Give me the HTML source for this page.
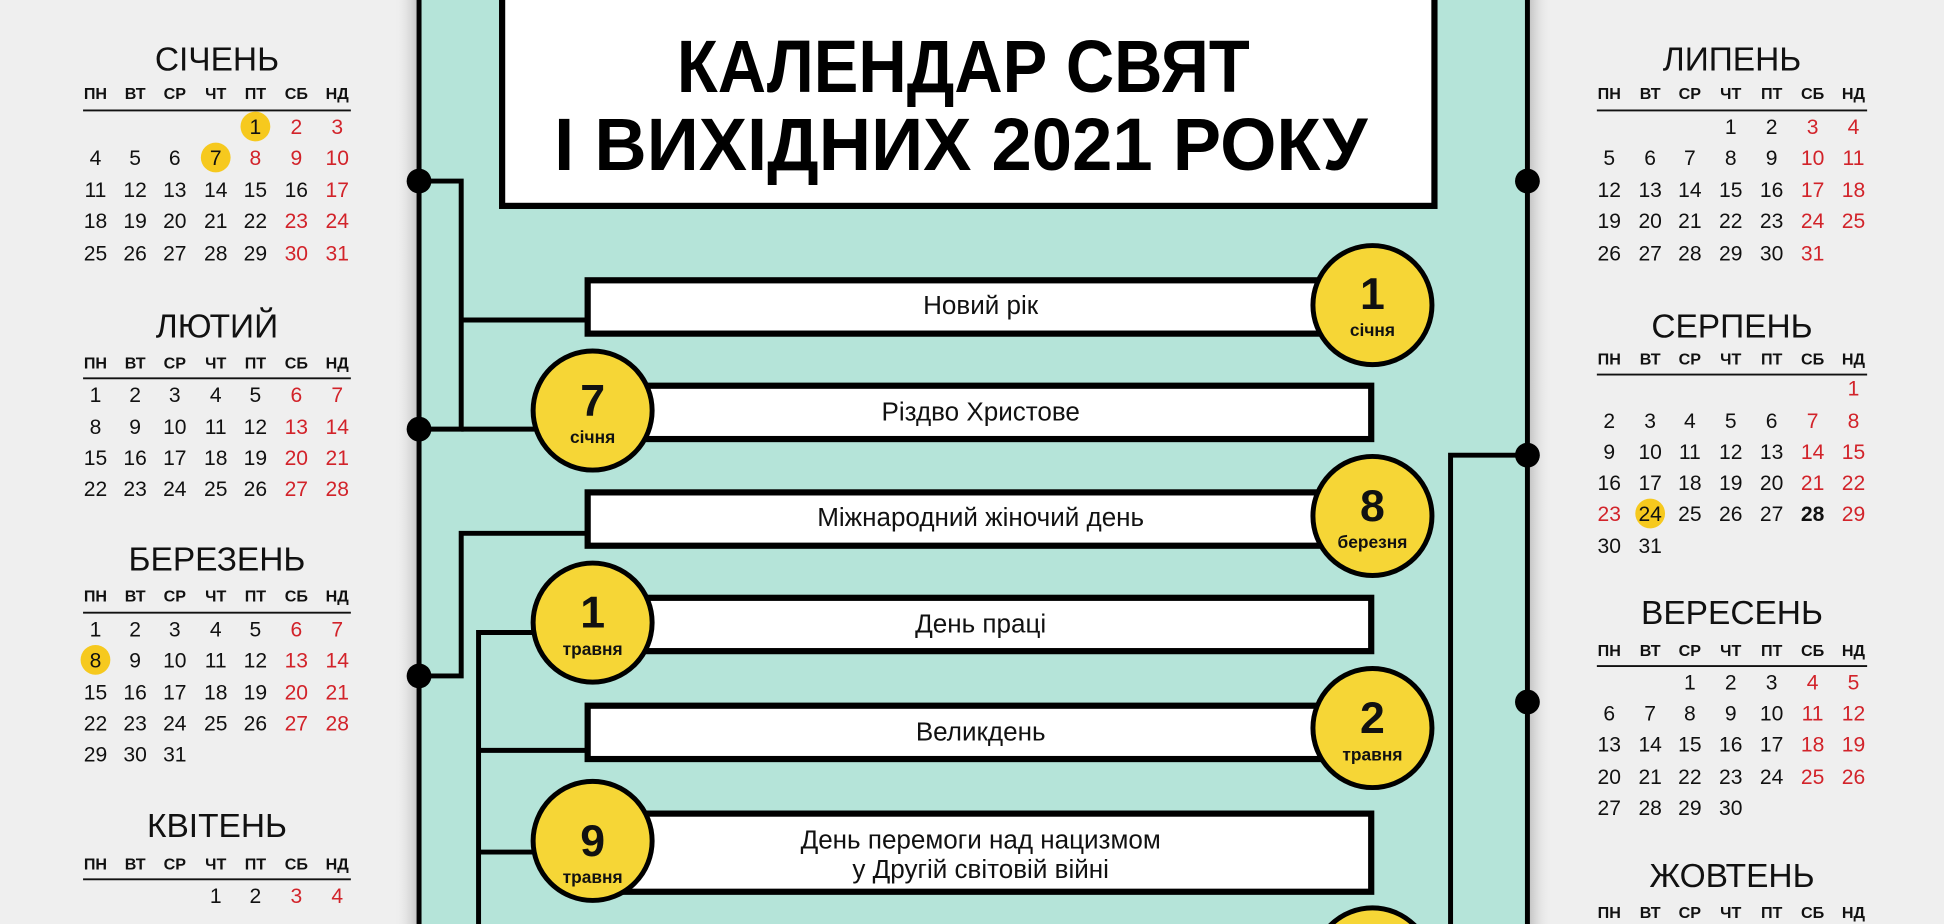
<!DOCTYPE html>
<html><head><meta charset="utf-8">
<style>
html,body{margin:0;padding:0;width:1944px;height:924px;overflow:hidden;background:#efefef}
svg{display:block;overflow:hidden}
text{font-family:"Liberation Sans","DejaVu Sans",sans-serif}
.d{font-size:17px;text-anchor:middle;fill:#111}
.r{fill:#d2232a}
.h{font-size:13px;font-weight:bold;text-anchor:middle;fill:#111}
.m{font-size:27px;text-anchor:middle;fill:#111}
.bl{font-size:21px;text-anchor:middle;fill:#111}
.cn{font-size:36px;font-weight:bold;text-anchor:middle;fill:#111}
.cm{font-size:14px;font-weight:bold;text-anchor:middle;fill:#111}
</style></head><body>
<svg width="1944" height="924" viewBox="0 0 1568 745" preserveAspectRatio="none" xmlns="http://www.w3.org/2000/svg">
<defs>
<linearGradient id="sl" x1="0" x2="1"><stop offset="0" stop-color="#efefef" stop-opacity="0"/><stop offset="1" stop-color="#bdbdbd"/></linearGradient>
<linearGradient id="sr" x1="1" x2="0"><stop offset="0" stop-color="#efefef" stop-opacity="0"/><stop offset="1" stop-color="#bdbdbd"/></linearGradient>
<clipPath id="cp"><rect x="0" y="0" width="1568" height="745"/></clipPath>
</defs>
<g clip-path="url(#cp)">
<rect x="0" y="0" width="1568" height="745" fill="#efefef"/>
<rect x="318" y="0" width="20" height="745" fill="url(#sl)"/>
<rect x="1232" y="0" width="20" height="745" fill="url(#sr)"/>
<rect x="338" y="0" width="894" height="745" fill="#b5e4d9"/>
<line x1="338" y1="0" x2="338" y2="745" stroke="#000" stroke-width="4"/>
<line x1="1232" y1="0" x2="1232" y2="745" stroke="#000" stroke-width="4"/>

<rect x="405" y="-5" width="752" height="171" fill="#fff" stroke="#000" stroke-width="5"/>
<text x="777" y="74" font-size="60" font-weight="bold" text-anchor="middle" textLength="462" lengthAdjust="spacingAndGlyphs">КАЛЕНДАР СВЯТ</text>
<text x="775" y="137" font-size="60" font-weight="bold" text-anchor="middle" textLength="656" lengthAdjust="spacingAndGlyphs">І ВИХІДНИХ 2021 РОКУ</text>

<g fill="none" stroke="#000" stroke-width="4">
<polyline points="338,146 372,146 372,346 338,346"/>
<line x1="372" y1="258" x2="474" y2="258"/>
<line x1="372" y1="346" x2="432" y2="346"/>
<polyline points="338,545 372,545 372,430 474,430"/>
<polyline points="432,510 386,510 386,745"/>
<line x1="386" y1="605" x2="474" y2="605"/>
<line x1="386" y1="687" x2="432" y2="687"/>
<polyline points="1232,367 1170,367 1170,745"/>
</g>
<g fill="#000">
<circle cx="338" cy="146" r="10"/><circle cx="338" cy="346" r="10"/><circle cx="338" cy="545" r="10"/>
<circle cx="1232" cy="146" r="10"/><circle cx="1232" cy="367" r="10"/><circle cx="1232" cy="566" r="10"/>
</g>

<g fill="#fff" stroke="#000" stroke-width="5">
<rect x="474" y="226" width="600" height="43"/>
<rect x="500" y="311" width="606" height="43"/>
<rect x="474" y="397" width="600" height="43"/>
<rect x="500" y="482" width="606" height="43"/>
<rect x="474" y="569" width="600" height="43"/>
<rect x="500" y="656" width="606" height="63"/>
</g>
<text class="bl" x="791" y="253">Новий рік</text>
<text class="bl" x="791" y="339">Різдво Христове</text>
<text class="bl" x="791" y="424">Міжнародний жіночий день</text>
<text class="bl" x="791" y="510">День праці</text>
<text class="bl" x="791" y="597">Великдень</text>
<text class="bl" x="791" y="684">День перемоги над нацизмом</text>
<text class="bl" x="791" y="708">у Другій світовій війні</text>

<g fill="#f6d636" stroke="#000" stroke-width="4">
<circle cx="1107" cy="246" r="48"/>
<circle cx="478" cy="331" r="48"/>
<circle cx="1107" cy="416" r="48"/>
<circle cx="478" cy="502" r="48"/>
<circle cx="1107" cy="587" r="48"/>
<circle cx="478" cy="678" r="48"/>
<circle cx="1107" cy="780" r="48"/>
</g>
<text class="cn" x="1107" y="249">1</text><text class="cm" x="1107" y="271">січня</text>
<text class="cn" x="478" y="335">7</text><text class="cm" x="478" y="357">січня</text>
<text class="cn" x="1107" y="420">8</text><text class="cm" x="1107" y="442">березня</text>
<text class="cn" x="478" y="506">1</text><text class="cm" x="478" y="528">травня</text>
<text class="cn" x="1107" y="591">2</text><text class="cm" x="1107" y="613">травня</text>
<text class="cn" x="478" y="690">9</text><text class="cm" x="478" y="712">травня</text>

<g fill="#f6c91e">
<circle cx="206" cy="102" r="12"/><circle cx="174" cy="127" r="12"/>
<circle cx="77" cy="532" r="12"/><circle cx="1331" cy="414" r="12"/>
</g>

<text class="m" x="175" y="57">СІЧЕНЬ</text>
<g transform="translate(0,80)"><text class="h" x="77">ПН</text><text class="h" x="109">ВТ</text><text class="h" x="141">СР</text><text class="h" x="174">ЧТ</text><text class="h" x="206">ПТ</text><text class="h r" x="239">СБ</text><text class="h r" x="272">НД</text></g>
<line x1="67" y1="89" x2="283" y2="89" stroke="#111" stroke-width="1.5"/>
<g transform="translate(0,108)"><text class="d" x="206">1</text><text class="d r" x="239">2</text><text class="d r" x="272">3</text></g>
<g transform="translate(0,133)"><text class="d" x="77">4</text><text class="d" x="109">5</text><text class="d" x="141">6</text><text class="d" x="174">7</text><text class="d r" x="206">8</text><text class="d r" x="239">9</text><text class="d r" x="272">10</text></g>
<g transform="translate(0,159)"><text class="d" x="77">11</text><text class="d" x="109">12</text><text class="d" x="141">13</text><text class="d" x="174">14</text><text class="d" x="206">15</text><text class="d" x="239">16</text><text class="d r" x="272">17</text></g>
<g transform="translate(0,184)"><text class="d" x="77">18</text><text class="d" x="109">19</text><text class="d" x="141">20</text><text class="d" x="174">21</text><text class="d" x="206">22</text><text class="d r" x="239">23</text><text class="d r" x="272">24</text></g>
<g transform="translate(0,210)"><text class="d" x="77">25</text><text class="d" x="109">26</text><text class="d" x="141">27</text><text class="d" x="174">28</text><text class="d" x="206">29</text><text class="d r" x="239">30</text><text class="d r" x="272">31</text></g>

<text class="m" x="175" y="272">ЛЮТИЙ</text>
<g transform="translate(0,297)"><text class="h" x="77">ПН</text><text class="h" x="109">ВТ</text><text class="h" x="141">СР</text><text class="h" x="174">ЧТ</text><text class="h" x="206">ПТ</text><text class="h r" x="239">СБ</text><text class="h r" x="272">НД</text></g>
<line x1="67" y1="305" x2="283" y2="305" stroke="#111" stroke-width="1.5"/>
<g transform="translate(0,324)"><text class="d" x="77">1</text><text class="d" x="109">2</text><text class="d" x="141">3</text><text class="d" x="174">4</text><text class="d" x="206">5</text><text class="d r" x="239">6</text><text class="d r" x="272">7</text></g>
<g transform="translate(0,350)"><text class="d" x="77">8</text><text class="d" x="109">9</text><text class="d" x="141">10</text><text class="d" x="174">11</text><text class="d" x="206">12</text><text class="d r" x="239">13</text><text class="d r" x="272">14</text></g>
<g transform="translate(0,375)"><text class="d" x="77">15</text><text class="d" x="109">16</text><text class="d" x="141">17</text><text class="d" x="174">18</text><text class="d" x="206">19</text><text class="d r" x="239">20</text><text class="d r" x="272">21</text></g>
<g transform="translate(0,400)"><text class="d" x="77">22</text><text class="d" x="109">23</text><text class="d" x="141">24</text><text class="d" x="174">25</text><text class="d" x="206">26</text><text class="d r" x="239">27</text><text class="d r" x="272">28</text></g>

<text class="m" x="175" y="460">БЕРЕЗЕНЬ</text>
<g transform="translate(0,485)"><text class="h" x="77">ПН</text><text class="h" x="109">ВТ</text><text class="h" x="141">СР</text><text class="h" x="174">ЧТ</text><text class="h" x="206">ПТ</text><text class="h r" x="239">СБ</text><text class="h r" x="272">НД</text></g>
<line x1="67" y1="494" x2="283" y2="494" stroke="#111" stroke-width="1.5"/>
<g transform="translate(0,513)"><text class="d" x="77">1</text><text class="d" x="109">2</text><text class="d" x="141">3</text><text class="d" x="174">4</text><text class="d" x="206">5</text><text class="d r" x="239">6</text><text class="d r" x="272">7</text></g>
<g transform="translate(0,538)"><text class="d" x="77">8</text><text class="d" x="109">9</text><text class="d" x="141">10</text><text class="d" x="174">11</text><text class="d" x="206">12</text><text class="d r" x="239">13</text><text class="d r" x="272">14</text></g>
<g transform="translate(0,564)"><text class="d" x="77">15</text><text class="d" x="109">16</text><text class="d" x="141">17</text><text class="d" x="174">18</text><text class="d" x="206">19</text><text class="d r" x="239">20</text><text class="d r" x="272">21</text></g>
<g transform="translate(0,589)"><text class="d" x="77">22</text><text class="d" x="109">23</text><text class="d" x="141">24</text><text class="d" x="174">25</text><text class="d" x="206">26</text><text class="d r" x="239">27</text><text class="d r" x="272">28</text></g>
<g transform="translate(0,614)"><text class="d" x="77">29</text><text class="d" x="109">30</text><text class="d" x="141">31</text></g>

<text class="m" x="175" y="675">КВІТЕНЬ</text>
<g transform="translate(0,701)"><text class="h" x="77">ПН</text><text class="h" x="109">ВТ</text><text class="h" x="141">СР</text><text class="h" x="174">ЧТ</text><text class="h" x="206">ПТ</text><text class="h r" x="239">СБ</text><text class="h r" x="272">НД</text></g>
<line x1="67" y1="709" x2="283" y2="709" stroke="#111" stroke-width="1.5"/>
<g transform="translate(0,728)"><text class="d" x="174">1</text><text class="d" x="206">2</text><text class="d r" x="239">3</text><text class="d r" x="272">4</text></g>

<text class="m" x="1397" y="57">ЛИПЕНЬ</text>
<g transform="translate(0,80)"><text class="h" x="1298">ПН</text><text class="h" x="1331">ВТ</text><text class="h" x="1363">СР</text><text class="h" x="1396">ЧТ</text><text class="h" x="1429">ПТ</text><text class="h r" x="1462">СБ</text><text class="h r" x="1495">НД</text></g>
<line x1="1288" y1="89" x2="1506" y2="89" stroke="#111" stroke-width="1.5"/>
<g transform="translate(0,108)"><text class="d" x="1396">1</text><text class="d" x="1429">2</text><text class="d r" x="1462">3</text><text class="d r" x="1495">4</text></g>
<g transform="translate(0,133)"><text class="d" x="1298">5</text><text class="d" x="1331">6</text><text class="d" x="1363">7</text><text class="d" x="1396">8</text><text class="d" x="1429">9</text><text class="d r" x="1462">10</text><text class="d r" x="1495">11</text></g>
<g transform="translate(0,159)"><text class="d" x="1298">12</text><text class="d" x="1331">13</text><text class="d" x="1363">14</text><text class="d" x="1396">15</text><text class="d" x="1429">16</text><text class="d r" x="1462">17</text><text class="d r" x="1495">18</text></g>
<g transform="translate(0,184)"><text class="d" x="1298">19</text><text class="d" x="1331">20</text><text class="d" x="1363">21</text><text class="d" x="1396">22</text><text class="d" x="1429">23</text><text class="d r" x="1462">24</text><text class="d r" x="1495">25</text></g>
<g transform="translate(0,210)"><text class="d" x="1298">26</text><text class="d" x="1331">27</text><text class="d" x="1363">28</text><text class="d" x="1396">29</text><text class="d" x="1429">30</text><text class="d r" x="1462">31</text></g>

<text class="m" x="1397" y="272">СЕРПЕНЬ</text>
<g transform="translate(0,294)"><text class="h" x="1298">ПН</text><text class="h" x="1331">ВТ</text><text class="h" x="1363">СР</text><text class="h" x="1396">ЧТ</text><text class="h" x="1429">ПТ</text><text class="h r" x="1462">СБ</text><text class="h r" x="1495">НД</text></g>
<line x1="1288" y1="302" x2="1506" y2="302" stroke="#111" stroke-width="1.5"/>
<g transform="translate(0,319)"><text class="d r" x="1495">1</text></g>
<g transform="translate(0,345)"><text class="d" x="1298">2</text><text class="d" x="1331">3</text><text class="d" x="1363">4</text><text class="d" x="1396">5</text><text class="d" x="1429">6</text><text class="d r" x="1462">7</text><text class="d r" x="1495">8</text></g>
<g transform="translate(0,370)"><text class="d" x="1298">9</text><text class="d" x="1331">10</text><text class="d" x="1363">11</text><text class="d" x="1396">12</text><text class="d" x="1429">13</text><text class="d r" x="1462">14</text><text class="d r" x="1495">15</text></g>
<g transform="translate(0,395)"><text class="d" x="1298">16</text><text class="d" x="1331">17</text><text class="d" x="1363">18</text><text class="d" x="1396">19</text><text class="d" x="1429">20</text><text class="d r" x="1462">21</text><text class="d r" x="1495">22</text></g>
<g transform="translate(0,420)"><text class="d r" x="1298">23</text><text class="d" x="1331">24</text><text class="d" x="1363">25</text><text class="d" x="1396">26</text><text class="d" x="1429">27</text><text class="d" x="1462" font-weight="bold">28</text><text class="d r" x="1495">29</text></g>
<g transform="translate(0,446)"><text class="d" x="1298">30</text><text class="d" x="1331">31</text></g>

<text class="m" x="1397" y="503">ВЕРЕСЕНЬ</text>
<g transform="translate(0,529)"><text class="h" x="1298">ПН</text><text class="h" x="1331">ВТ</text><text class="h" x="1363">СР</text><text class="h" x="1396">ЧТ</text><text class="h" x="1429">ПТ</text><text class="h r" x="1462">СБ</text><text class="h r" x="1495">НД</text></g>
<line x1="1288" y1="537" x2="1506" y2="537" stroke="#111" stroke-width="1.5"/>
<g transform="translate(0,556)"><text class="d" x="1363">1</text><text class="d" x="1396">2</text><text class="d" x="1429">3</text><text class="d r" x="1462">4</text><text class="d r" x="1495">5</text></g>
<g transform="translate(0,581)"><text class="d" x="1298">6</text><text class="d" x="1331">7</text><text class="d" x="1363">8</text><text class="d" x="1396">9</text><text class="d" x="1429">10</text><text class="d r" x="1462">11</text><text class="d r" x="1495">12</text></g>
<g transform="translate(0,606)"><text class="d" x="1298">13</text><text class="d" x="1331">14</text><text class="d" x="1363">15</text><text class="d" x="1396">16</text><text class="d" x="1429">17</text><text class="d r" x="1462">18</text><text class="d r" x="1495">19</text></g>
<g transform="translate(0,632)"><text class="d" x="1298">20</text><text class="d" x="1331">21</text><text class="d" x="1363">22</text><text class="d" x="1396">23</text><text class="d" x="1429">24</text><text class="d r" x="1462">25</text><text class="d r" x="1495">26</text></g>
<g transform="translate(0,657)"><text class="d" x="1298">27</text><text class="d" x="1331">28</text><text class="d" x="1363">29</text><text class="d" x="1396">30</text></g>

<text class="m" x="1397" y="715">ЖОВТЕНЬ</text>
<g transform="translate(0,740)"><text class="h" x="1298">ПН</text><text class="h" x="1331">ВТ</text><text class="h" x="1363">СР</text><text class="h" x="1396">ЧТ</text><text class="h" x="1429">ПТ</text><text class="h r" x="1462">СБ</text><text class="h r" x="1495">НД</text></g>
</g>
</svg>
</body></html>
